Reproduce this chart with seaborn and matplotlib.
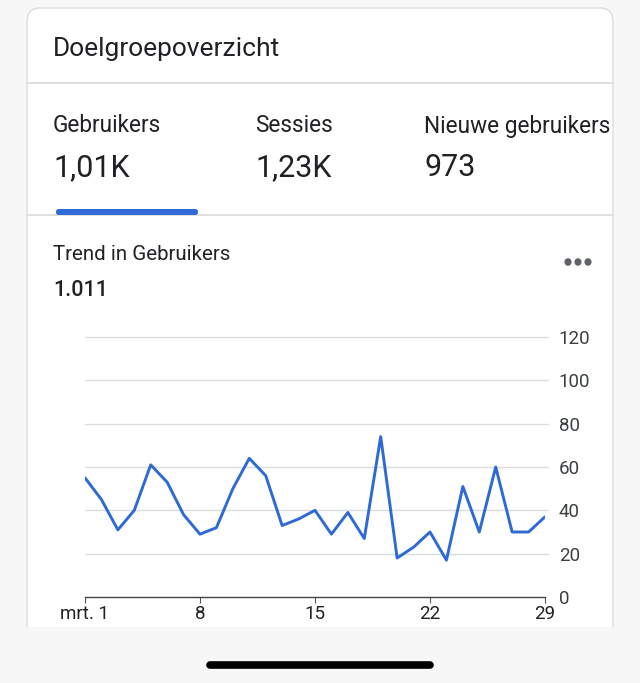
import matplotlib
matplotlib.use("Agg")
import matplotlib.pyplot as plt
import seaborn as sns
import pandas as pd
from matplotlib.patches import FancyBboxPatch
from matplotlib.lines import Line2D

# ---- data ----
days = list(range(1, 30))
users = [55, 45, 31, 40, 61, 53, 38, 29, 32, 50, 64, 56, 33, 36, 40,
         29, 39, 27, 74, 18, 23, 30, 17, 51, 30, 60, 30, 30, 37]
x_ticks = [1, 8, 15, 22, 29]
x_tick_labels = ["mrt. 1", "8", "15", "22", "29"]
y_ticks = [0, 20, 40, 60, 80, 100, 120]
title = "Doelgroepoverzicht"
metric_names = ["Gebruikers", "Sessies", "Nieuwe gebruikers"]
metric_values = ["1,01K", "1,23K", "973"]
trend_title = "Trend in Gebruikers"
trend_total = "1.011"

sns.set_theme(style="white")
plt.rcParams["font.family"] = ["Roboto", "DejaVu Sans"]

W, H = 640, 683
fig = plt.figure(figsize=(W / 100, H / 100), dpi=100)
fig.patch.set_facecolor("#f7f7f7")

def fx(px):
    return px / W

def fy(py):
    return 1 - py / H

# card
card = FancyBboxPatch((fx(27), fy(640)), fx(613) - fx(27), fy(8) - fy(640),
                      boxstyle="round,pad=0,rounding_size=0.02",
                      transform=fig.transFigure, facecolor="white",
                      edgecolor="#dcdcdc", linewidth=1.0, zorder=-2)
fig.patches.append(card)
cover = FancyBboxPatch((0, 0), 1, fy(627), boxstyle="square,pad=0",
                       transform=fig.transFigure, facecolor="#f7f7f7",
                       edgecolor="none", zorder=-1)
fig.patches.append(cover)

# separators
for yy in (83, 215):
    fig.add_artist(Line2D([fx(27), fx(613)], [fy(yy), fy(yy)],
                          transform=fig.transFigure, color="#dcdcdc", lw=1.2, zorder=2))

# blue tab indicator
tab = FancyBboxPatch((fx(56), fy(215)), fx(198) - fx(56), fy(209) - fy(215),
                     boxstyle="round,pad=0,rounding_size=0.004",
                     transform=fig.transFigure, facecolor="#2f6bd8",
                     edgecolor="none", zorder=3)
fig.patches.append(tab)

# home indicator
fig.add_artist(Line2D([fx(210), fx(430)], [fy(665), fy(665)],
                      transform=fig.transFigure, color="black", lw=5.5,
                      solid_capstyle="round", zorder=3))

# texts
fig.text(fx(53), fy(49), title, fontsize=19, color="#202124", va="center", ha="left")
for xpos, name, val in zip([53, 255, 424], metric_names, metric_values):
    fig.text(fx(xpos), fy(126), name, fontsize=16.3, color="#202124", va="center", ha="left")
    fig.text(fx(xpos), fy(168), val, fontsize=22, color="#202124", va="center", ha="left")
fig.text(fx(53), fy(255), trend_title, fontsize=14.8, color="#202124", va="center", ha="left")
fig.text(fx(53), fy(290), trend_total, fontsize=15.5, color="#202124", va="center",
         ha="left", fontweight="medium")
for dx in (568, 578, 588):
    fig.add_artist(plt.Circle((fx(dx), fy(262)), 0.0045, transform=fig.transFigure,
                              color="#5f6368", zorder=3))

# chart axes
ax = fig.add_axes([fx(85), fy(597), fx(545) - fx(85), fy(337) - fy(597)])
ax.set_zorder(5)
ax.set_facecolor("none")
df = pd.DataFrame({"day": days, "users": users})
sns.lineplot(data=df, x="day", y="users", ax=ax, color="#2d6ad6", linewidth=2.1, zorder=3)
ax.set_xlim(1, 29)
ax.set_ylim(0, 120)
ax.set_xlabel("")
ax.set_ylabel("")
ax.set_xticks(x_ticks)
ax.set_xticklabels(x_tick_labels)
ax.set_yticks(y_ticks)
ax.yaxis.tick_right()
ax.tick_params(axis="y", length=0, pad=10, labelsize=13.5, labelcolor="#3c4043")
ax.tick_params(axis="x", length=4, width=0.8, color="#555555", pad=2,
               labelsize=13.5, labelcolor="#202124", bottom=True)
for yv in y_ticks[1:]:
    ax.axhline(yv, color="#dadce0", lw=1.0, zorder=1, xmax=1.006, clip_on=False)
for s in ["top", "left", "right"]:
    ax.spines[s].set_visible(False)
ax.spines["bottom"].set_color("#444444")
ax.spines["bottom"].set_linewidth(1.0)
ax.grid(False)

fig.savefig("out.png", dpi=100, facecolor=fig.get_facecolor())
